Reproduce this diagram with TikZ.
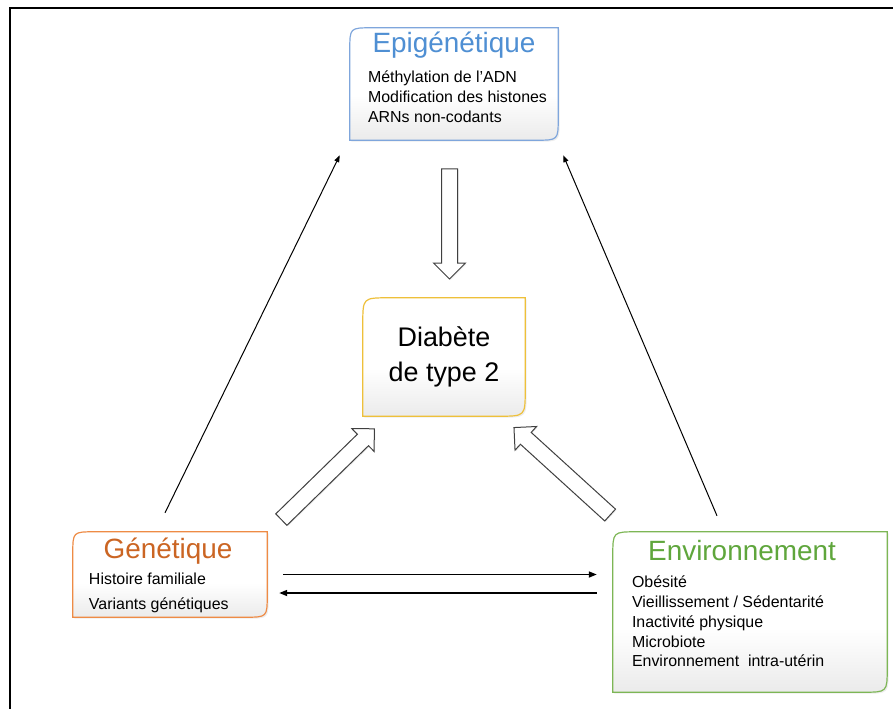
\documentclass[tikz,border=0pt]{standalone}
\usepackage{fontspec}
\setmainfont{Liberation Sans}
\usetikzlibrary{arrows.meta,shapes.arrows,shadows,calc,positioning}

\definecolor{epiblue}{HTML}{7FA6DC}
\definecolor{epititle}{HTML}{4F8FD3}
\definecolor{dtgold}{HTML}{EEC03A}
\definecolor{genorange}{HTML}{EE8B45}
\definecolor{gentitle}{HTML}{CB6523}
\definecolor{envgreen}{HTML}{7DB655}
\definecolor{envtitle}{HTML}{5FA63C}

% white above, grey towards the bottom
\pgfdeclareverticalshading{boxshade}{100bp}{color(0bp)=(black!18); color(45bp)=(white); color(100bp)=(white)}

\tikzset{
  box/.style={inner sep=0pt, draw=none},
  boxfill/.style={line width=1.2bp, shading=boxshade,
    drop shadow={shadow xshift=1.5bp, shadow yshift=-1.5bp, opacity=0.15}},
  title/.style={font=\fontsize{28}{32}\selectfont, anchor=base, inner sep=0pt},
  body/.style={font=\fontsize{16}{20}\selectfont, align=left, anchor=base west, inner sep=0pt},
  link/.style={line width=1bp, -{Triangle[length=7bp, width=5bp]}},
  hlink/.style={line width=1.6bp, -{Triangle[length=8bp, width=6bp]}},
  bigarrow/.style={single arrow, draw=black!75, fill=white, line width=1bp, inner sep=7.5bp,
    single arrow head extend=8bp, drop shadow={shadow xshift=1bp, shadow yshift=-1bp, opacity=0.15}}
}

% box with top-left and bottom-right corners rounded
\newcommand{\cornerbox}[3]{%
  \path[boxfill, draw=#3] ([shift={(0,#2)}]#1.north west)
    .. controls (#1.north west) .. ([shift={(#2,0)}]#1.north west)
    -- (#1.north east) -- ([shift={(0,-#2)}]#1.south east)
    .. controls (#1.south east) .. ([shift={(-#2,0)}]#1.south east)
    -- (#1.south west) -- cycle;}

\begin{document}
\begin{tikzpicture}[x=1bp, y=-1bp]
  \useasboundingbox (0,0) rectangle (893,709);
  % frame
  \draw[line width=2bp] (9.5,709) -- (9.5,8.5) -- (893,8.5);

  % Boxes
  \node[box, minimum width=208bp, minimum height=112bp] (epi) at (454,84) {};
  \node[box, minimum width=162bp, minimum height=118bp] (dt) at (444,357) {};
  \node[box, minimum width=194bp, minimum height=85bp] (gen) at (170,574.5) {};
  \node[box, minimum width=274bp, minimum height=160bp] (env) at (750,612) {};

  \cornerbox{epi}{22}{epiblue}
  \cornerbox{dt}{26}{dtgold}
  \cornerbox{gen}{22}{genorange}
  \cornerbox{env}{24}{envgreen}

  % Texts
  \node[title, text=epititle] (epi-title) at ([shift={(0,25)}]epi.north) {Epigénétique};
  \node[body] (epi-body) at ([shift={(18,95)}]epi.north west)
    {Méthylation de l’ADN\\Modification des histones\\ARNs non-codants};

  \node[font=\fontsize{27}{35}\selectfont, align=center] (dt-text) at (dt.center) {Diabète\\de type 2};

  \node[title, text=gentitle] (gen-title) at ([shift={(-2,27)}]gen.north) {Génétique};
  \node[body, font=\fontsize{16}{25}\selectfont] (gen-body) at ([shift={(16,78)}]gen.north west)
    {Histoire familiale\\Variants génétiques};

  \node[title, text=envtitle] (env-title) at ([shift={(-8,29)}]env.north) {Environnement};
  \node[body, font=\fontsize{16}{19.8}\selectfont] (env-body) at ([shift={(19,135)}]env.north west)
    {Obésité\\Vieillissement / Sédentarité\\Inactivité physique\\Microbiote\\Environnement~ intra-utérin};

  % Block arrows
  \node[bigarrow, minimum height=110bp, rotate=-90] (down) at (449.5,220) {};
  \node[bigarrow, minimum height=130bp, rotate=44.3] (upright) at (325,477) {};
  \node[bigarrow, minimum height=130bp, rotate=137.7] (upleft) at (565,474) {};

  % Thin arrows
  \draw[link] ([shift={(-5,-19)}]gen.north) -- ([shift={(-10,15)}]epi.south west);
  \draw[link] ([shift={(-33,-16)}]env.north) -- ([shift={(5,15)}]epi.south east);

  \coordinate (a1) at ([shift={(16,0)}]gen.east);
  \coordinate (a2) at ([shift={(12,18.5)}]gen.east);
  \draw[hlink] (a1) -- ($(a1 -| env.west)+(-16,0)$);
  \draw[hlink] ($(a2 -| env.west)+(-16,0)$) -- (a2);
\end{tikzpicture}
\end{document}
